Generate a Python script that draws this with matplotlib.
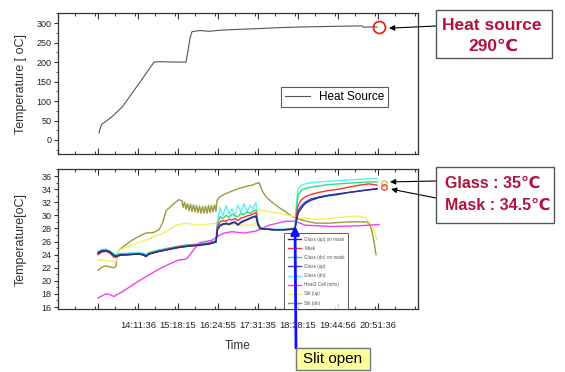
import numpy as np
import matplotlib
matplotlib.use('Agg')
import matplotlib.pyplot as plt
from matplotlib.patches import Rectangle
from matplotlib.ticker import FixedLocator, MultipleLocator

plt.rcParams['font.family'] = ['Liberation Sans', 'DejaVu Sans']

# ---------------- data (time = minutes after 13:00) ----------------
heat_t = [6.6, 8.5, 11.1, 20.0, 28.3, 44.9, 73.3, 98.3, 110.0, 130.0, 151.6, 155.0, 158.3,
          161.6, 175.0, 190.0, 210.0, 240.0, 273.0, 300.0, 340.0, 406.6, 445.0, 448.0, 452.0, 470.0]
heat_v = [18, 30, 40, 50, 60, 84, 145, 200, 201, 200, 200, 230, 262,
          278, 281, 279, 282, 284, 286, 288, 290, 292, 293, 289, 290, 290]

glass_t = [4.9, 11.6, 18.3, 24.9, 31.6, 34.9, 41.6, 56.6, 73.3, 81.6, 84.9, 89.9, 106.6, 123.3,
           139.9, 156.6, 173.3, 189.9, 201.6, 204.1, 208.3, 213.3, 218.3, 223.3, 228.3, 233.3,
           238.3, 243.3, 248.3, 253.3, 258.3, 263.3, 268.3, 271.6, 275.0, 281.6, 298.3, 315.0,
           333.3, 335.8, 338.3, 343.3, 350.0, 360.0, 373.3, 390.0, 406.6, 423.3, 440.0, 456.6, 470.0]
glass_up_mask = [24.2, 24.5, 24.6, 24.4, 23.8, 23.7, 23.9, 24.0, 24.1, 23.9, 23.7, 24.1, 24.5, 24.8,
                 25.1, 25.3, 25.4, 25.6, 25.9,
                 27.8, 28.4, 28.6, 28.7, 28.6, 28.8, 28.9, 28.5, 28.9, 29.1, 29.3, 29.5, 29.7, 29.8,
                 28.5, 28.0, 27.9, 27.8, 27.8, 27.9, 29.2, 30.3, 31.0, 31.8, 32.3, 32.7, 33.0, 33.2,
                 33.5, 33.7, 33.9, 34.0]
mask = [24.0, 24.4, 24.5, 24.2, 23.6, 23.6, 23.9, 24.0, 24.1, 23.9, 23.7, 24.1, 24.5, 24.9,
        25.2, 25.4, 25.5, 25.7, 26.0,
        28.3, 29.0, 29.2, 29.1, 29.4, 29.3, 29.5, 29.2, 29.6, 29.7, 29.9, 30.0, 30.2, 30.4,
        28.7, 28.1, 27.9, 27.8, 27.8, 27.9, 30.0, 31.5, 32.3, 32.8, 33.2, 33.5, 33.8, 34.0,
        34.3, 34.6, 34.8, 34.6]
glass_dn_mask = [24.4, 24.7, 24.8, 24.5, 24.0, 23.9, 24.1, 24.2, 24.2, 24.1, 23.9, 24.3, 24.7, 25.0,
                 25.3, 25.5, 25.6, 25.8, 26.1,
                 28.8, 29.8, 29.5, 30.0, 29.7, 30.2, 29.9, 29.8, 30.3, 30.1, 30.5, 30.3, 30.6, 30.8,
                 28.8, 28.1, 27.9, 27.8, 27.8, 28.0, 31.0, 33.0, 33.8, 34.1, 34.3, 34.5, 34.7, 34.8,
                 34.9, 35.0, 35.1, 35.1]
glass_up = [24.3, 24.6, 24.6, 24.4, 23.9, 23.8, 24.0, 24.0, 24.1, 24.0, 23.8, 24.1, 24.5, 24.8,
            25.1, 25.3, 25.5, 25.7, 26.0,
            27.9, 28.5, 28.7, 28.8, 28.7, 28.9, 29.0, 28.6, 29.0, 29.2, 29.4, 29.6, 29.8, 29.9,
            28.6, 28.0, 27.9, 27.8, 27.8, 27.9, 29.4, 30.6, 31.4, 32.0, 32.5, 32.8, 33.1, 33.3,
            33.5, 33.7, 33.9, 34.1]
glass_dn = [24.5, 24.8, 24.8, 24.6, 24.1, 24.0, 24.2, 24.2, 24.3, 24.2, 24.0, 24.3, 24.7, 25.0,
            25.3, 25.5, 25.6, 25.8, 26.1,
            29.0, 31.2, 29.9, 31.5, 30.2, 31.0, 30.0, 31.6, 30.4, 31.8, 30.5, 31.5, 31.0, 32.0,
            29.0, 28.2, 28.0, 27.9, 27.9, 28.1, 32.0, 34.0, 34.6, 34.8, 35.0, 35.1, 35.2, 35.3,
            35.4, 35.5, 35.6, 35.6]

cell_t = [4.9, 18.3, 24.9, 31.6, 36.6, 44.9, 56.6, 73.3, 89.9, 106.6, 120.0, 139.9, 151.6, 156.6,
          164.1, 173.3, 194.9, 206.6, 215.0, 228.3, 248.3, 268.3, 290.0, 318.3, 333.3, 350.0,
          395.0, 440.0, 473.3]
cell_v = [17.4, 18.0, 17.9, 17.6, 17.9, 18.3, 19.0, 20.0, 20.9, 21.8, 22.4, 23.2, 23.3, 23.8,
          24.7, 25.8, 26.2, 26.9, 27.3, 27.5, 27.3, 27.6, 28.5, 29.1, 29.1, 28.5,
          28.3, 28.4, 28.6]

slit_up_t = [4.9, 18.3, 34.9, 36.6, 39.9, 61.6, 89.9, 118.3, 134.9, 151.6, 173.3, 201.6, 215.0,
             240.0, 268.3, 270.0, 273.3, 306.6, 340.0, 368.3, 395.0, 440.0, 451.6, 461.6, 470.0]
slit_up_v = [23.2, 23.1, 22.9, 24.0, 24.7, 25.5, 26.4, 27.5, 28.5, 28.8, 28.5, 28.8, 28.6,
             28.5, 28.5, 30.5, 30.8, 30.3, 29.6, 29.4, 29.6, 29.9, 29.6, 28.3, 26.3]

slit_dn_t = [4.9, 11.6, 18.3, 24.9, 31.6, 34.9, 36.6, 39.9, 48.3, 61.6, 73.3, 84.9, 98.3, 106.6,
             113.3, 118.3, 131.6, 139.9, 145.0,
             146.6, 149.1, 151.6, 154.1, 156.6, 159.1, 161.6, 164.1, 166.6, 169.1, 171.6, 174.1,
             176.6, 179.1, 181.6, 184.1, 186.6, 189.1, 191.6, 194.1, 196.6, 199.1, 201.6,
             203.3, 206.6, 215.0, 228.3, 240.0, 251.6, 261.6, 270.0, 273.3, 278.3, 285.0, 295.0,
             306.6, 318.3, 328.3, 340.0, 356.6, 368.3, 390.0, 406.6, 423.3, 440.0, 453.3, 458.3,
             461.6, 465.0, 468.3]
slit_dn_v = [21.6, 22.1, 22.3, 22.1, 22.0, 22.2, 24.0, 24.7, 25.3, 26.2, 26.8, 27.3, 27.4, 27.8,
             29.0, 30.7, 31.8, 32.4, 32.2,
             31.2, 32.0, 30.9, 31.8, 30.7, 31.7, 30.6, 31.6, 30.5, 31.5, 30.4, 31.4,
             30.3, 31.4, 30.3, 31.4, 30.3, 31.5, 30.4, 31.5, 30.5, 31.6, 30.6,
             32.3, 32.7, 33.2, 33.7, 34.1, 34.4, 34.6, 34.9, 35.0, 33.8, 32.8, 32.0,
             31.2, 30.5, 29.8, 29.4, 29.0, 28.8, 28.8, 28.9, 29.0, 29.0, 29.0, 28.5,
             27.5, 26.0, 24.0]

series_labels = ["Glass (up) on mask", "Mask", "Glass (dn) on mask", "Glass (up)",
                 "Glass (dn)", "Heat3 Cell (mhs)", "Slit (up)", "Slit (dn)"]
series_colors = ["#283080", "#ff3030", "#30dd80", "#3a3ae8", "#60f0f0", "#f040f0", "#f2f060", "#9a9a40"]

tick_labels = ["", "", "14:11:36", "15:18:15", "16:24:55", "17:31:35", "18:38:15",
               "19:44:56", "20:51:36", ""]
first_label = "14:11:36"
tick_step_s = 4000

# ---------------- figure ----------------
W, H = 565, 372
fig = plt.figure(figsize=(W / 100, H / 100), dpi=100)

def fx(px):
    return px / W

def fy(py):
    return 1 - py / H

hh, mm, ss = [int(v) for v in first_label.split(":")]
t0 = (hh - 13) * 60 + mm + ss / 60.0
step = tick_step_s / 60.0
idx0 = tick_labels.index(first_label)
ticks = [t0 + (i - idx0) * step for i in range(len(tick_labels))]

ax1 = fig.add_axes([fx(58), fy(154), fx(360), 141 / H])
ax2 = fig.add_axes([fx(58), fy(309), fx(360), 140 / H])

for ax in (ax1, ax2):
    ax.set_xlim(ticks[0], ticks[-1])
    ax.xaxis.set_major_locator(FixedLocator(ticks))
    ax.xaxis.set_minor_locator(MultipleLocator(step / 2))
    ax.tick_params(axis='x', which='both', direction='in', top=True, bottom=True, color='#333333')
    ax.tick_params(axis='x', which='major', length=4, width=0.8)
    ax.tick_params(axis='x', which='minor', length=2.5, width=0.7)
    ax.tick_params(axis='y', which='both', direction='out', left=True, right=False,
                   labelsize=6.5, pad=1.5, color='#333333', labelcolor='#222222')
    ax.tick_params(axis='y', which='major', length=3, width=0.8)
    ax.tick_params(axis='y', which='minor', length=1.8, width=0.6)
    for s in ax.spines.values():
        s.set_linewidth(0.9)
        s.set_color('#333333')

# top panel
ax1.plot(heat_t, heat_v, color='#555555', lw=0.8, label='Heat Source')
ax1.set_ylim(-36, 326)
ax1.yaxis.set_major_locator(MultipleLocator(50))
ax1.yaxis.set_minor_locator(MultipleLocator(25))
ax1.set_xticklabels([])
ax1.set_ylabel('Temperature [ oC]', fontsize=9, color='#333333')
ax1.yaxis.set_label_coords(-0.086, 0.5)
ax1.legend(loc='upper left', bbox_to_anchor=(fx(281), fy(87)), bbox_transform=fig.transFigure,
           fontsize=8.5, frameon=True, fancybox=False, edgecolor='#333333', handlelength=2.1,
           borderpad=0.35, handletextpad=0.75, borderaxespad=0)
ax1.get_legend().get_frame().set_linewidth(0.8)
ax1.plot([473.3], [290], 'o', mfc='none', mec='#ee2020', ms=8.6, mew=1.3)

# bottom panel
lower_series = [(glass_t, glass_up_mask), (glass_t, mask), (glass_t, glass_dn_mask),
                (glass_t, glass_up), (glass_t, glass_dn), (cell_t, cell_v),
                (slit_up_t, slit_up_v), (slit_dn_t, slit_dn_v)]
draw_order = [7, 6, 5, 4, 2, 1, 3, 0]
handles = [None] * 8
for i in draw_order:
    t, v = lower_series[i]
    handles[i], = ax2.plot(t, v, color=series_colors[i], lw=1.0, label=series_labels[i])
ax2.plot([481.6], [34.9], 'o', mfc='none', mec='#c8c840', ms=4, mew=0.9)
ax2.plot([481.6], [34.3], 'o', mfc='none', mec='#ff3030', ms=4, mew=0.9)

ax2.set_ylim(15.7, 37.07)
ax2.yaxis.set_major_locator(MultipleLocator(2))
ax2.yaxis.set_minor_locator(MultipleLocator(1))
ax2.set_xticklabels(tick_labels, fontsize=6.8, color='#222222')
ax2.tick_params(axis='x', which='major', pad=9)
ax2.set_ylabel('Temperature[oC]', fontsize=9, color='#333333')
ax2.yaxis.set_label_coords(-0.086, 0.5)
ax2.set_xlabel('Time', fontsize=8.5, color='#333333', labelpad=7)

leg = ax2.legend(handles=handles, loc='upper left', bbox_to_anchor=(fx(284), fy(233)),
                 bbox_transform=fig.transFigure, fontsize=3.3, frameon=True, fancybox=False,
                 edgecolor='#333333', handlelength=3.0, labelspacing=0.9, borderpad=0.8,
                 handletextpad=0.6, borderaxespad=0)
leg.get_frame().set_linewidth(0.7)
for txt in leg.get_texts():
    txt.set_color('#555555')

# ---------------- annotations ----------------
crimson = '#b3123e'
txtfam = ['Liberation Sans', 'DejaVu Sans']

def box(x, y, w, h, fc='white', ec='#555555'):
    fig.patches.append(Rectangle((fx(x), fy(y + h)), w / W, h / H, transform=fig.transFigure,
                                 facecolor=fc, edgecolor=ec, lw=1.0, zorder=5))

box(436, 10, 116, 48)
fig.text(fx(492), fy(26), 'Heat source', ha='center', va='center', fontsize=12.5,
         fontweight='bold', color=crimson, family=txtfam, zorder=6)
fig.text(fx(493), fy(46), '290℃', ha='center', va='center', fontsize=12.5,
         fontweight='bold', color=crimson, family=txtfam, zorder=6)

box(436, 167, 118, 56)
fig.text(fx(445), fy(183), 'Glass : 35℃', ha='left', va='center', fontsize=11.5,
         fontweight='bold', color=crimson, family=txtfam, zorder=6)
fig.text(fx(445), fy(205), 'Mask : 34.5℃', ha='left', va='center', fontsize=11.5,
         fontweight='bold', color=crimson, family=txtfam, zorder=6)

box(296, 348, 74, 22, fc='#ffff99', ec='#777777')
fig.text(fx(333), fy(359), 'Slit open', ha='center', va='center', fontsize=11,
         color='black', family=txtfam, zorder=6)

arrow_k = dict(arrowstyle='-|>', color='black', lw=0.8, mutation_scale=8, shrinkA=0, shrinkB=0)
ax1.annotate('', xy=(489.9, 287), xycoords='data', xytext=(fx(436), fy(26)),
             textcoords='figure fraction', arrowprops=arrow_k, annotation_clip=False)
ax2.annotate('', xy=(491.6, 35.1), xycoords='data', xytext=(fx(436), fy(181)),
             textcoords='figure fraction', arrowprops=arrow_k, annotation_clip=False)
ax2.annotate('', xy=(493.3, 34.0), xycoords='data', xytext=(fx(436), fy(198)),
             textcoords='figure fraction', arrowprops=arrow_k, annotation_clip=False)
ax2.annotate('', xy=(333.3, 28.4), xycoords='data', xytext=(fx(296), fy(348)),
             textcoords='figure fraction',
             arrowprops=dict(arrowstyle='-|>', color='#1010ff', lw=2.0, mutation_scale=12,
                             shrinkA=0, shrinkB=0),
             annotation_clip=False, zorder=7)

fig.savefig('out.png', dpi=100)
